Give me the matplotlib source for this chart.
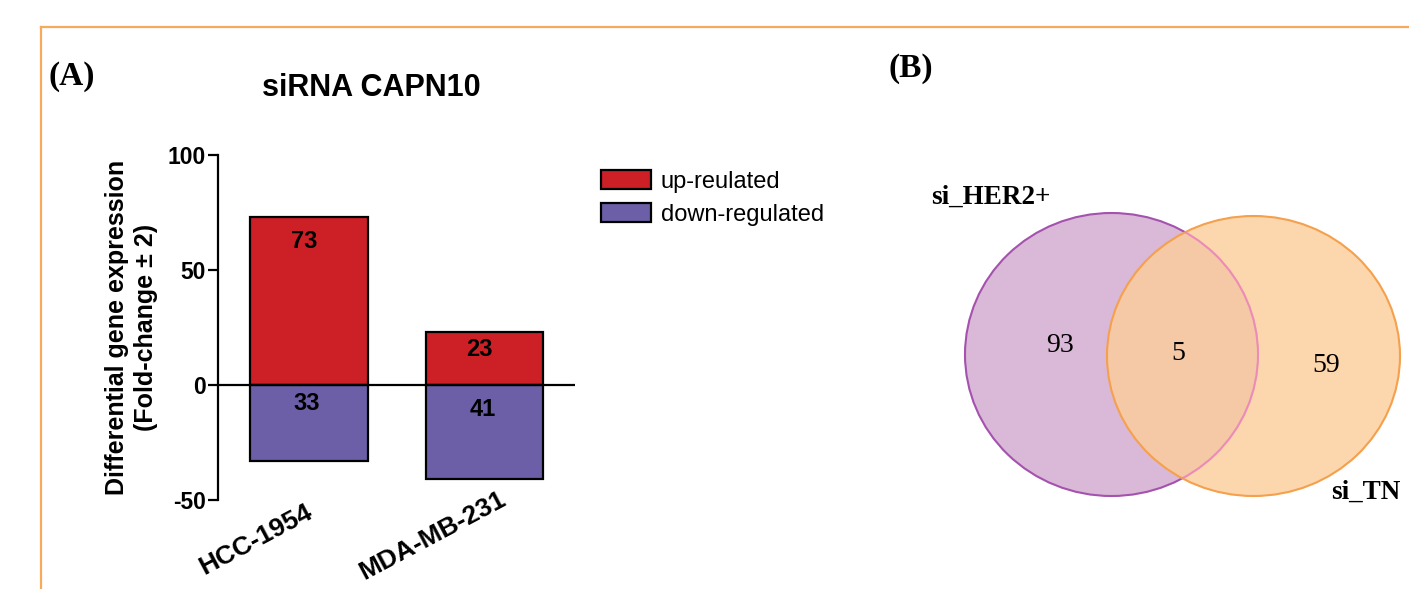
import matplotlib
matplotlib.use("Agg")
import matplotlib.pyplot as plt
import matplotlib.transforms as mtrans
from matplotlib.patches import Ellipse
from matplotlib.lines import Line2D
import numpy as np

# ---------------- data ----------------
cell_lines = ["HCC-1954", "MDA-MB-231"]
up_regulated = [73, 23]
down_regulated = [33, 41]
series_labels = ["up-reulated", "down-regulated"]
y_ticks = [-50, 0, 50, 100]
chart_title = "siRNA CAPN10"
y_label = "Differential gene expression\n(Fold-change \u00b1 2)"

venn_sets = ["si_HER2+", "si_TN"]
venn_only_a = 93
venn_both = 5
venn_only_b = 59

# ---------------- style ----------------
W, H = 1409, 589
RED = "#CD1F26"
PURPLE = "#6C5FA7"
FRAME = "#F7A95C"
SANS = "Liberation Sans"
SERIF = "Liberation Serif"

fig = plt.figure(figsize=(W / 100, H / 100), dpi=100)

def fx(px):
    return px / W

def fy(py):
    return 1 - py / H

# overlay axes in pixel coordinates (frame + venn)
ov = fig.add_axes([0, 0, 1, 1])
ov.set_xlim(0, W)
ov.set_ylim(H, 0)
ov.axis("off")
ov.patch.set_alpha(0)

# orange frame
ov.add_line(Line2D([41, W], [27, 27], color=FRAME, lw=1.6))
ov.add_line(Line2D([41, 41], [27, H], color=FRAME, lw=1.6))

# ---------------- panel A: bar chart ----------------
ax = fig.add_axes([fx(218), fy(500), fx(575) - fx(218), fy(155) - fy(500)])
x = np.arange(len(cell_lines))
bw = 0.67
b_up = ax.bar(x, up_regulated, width=bw, color=RED, edgecolor="black",
              linewidth=1.6, label=series_labels[0], zorder=2)
b_dn = ax.bar(x, [-v for v in down_regulated], width=bw, color=PURPLE,
              edgecolor="black", linewidth=1.6, label=series_labels[1], zorder=2)
ax.axhline(0, color="black", lw=1.6, zorder=3)
ax.set_xlim(-0.519, 1.516)
ax.set_ylim(-50, 100)
ax.set_yticks(y_ticks)
ax.set_yticklabels([str(t) for t in y_ticks], fontsize=16.5, fontweight="bold",
                   family=SANS)
ax.tick_params(axis="y", direction="out", length=7, width=1.6, pad=1.5)
ax.tick_params(axis="x", length=0, pad=0)
ax.set_xticks(x)
ax.set_xticklabels(cell_lines, rotation=28, ha="right", va="top",
                   rotation_mode="anchor", fontsize=19, fontweight="bold",
                   family=SANS)
# per-label layout nudges (pixels: right, up)
xlabel_nudges = [(-4, 0), (14, 13)]
for lbl, (dx, dy) in zip(ax.get_xticklabels(), xlabel_nudges):
    lbl.set_transform(lbl.get_transform() +
                      mtrans.ScaledTranslation(dx / 100, dy / 100, fig.dpi_scale_trans))
for s in ["top", "right", "bottom"]:
    ax.spines[s].set_visible(False)
ax.spines["left"].set_linewidth(1.6)
ax.patch.set_alpha(0)

ax.set_ylabel(y_label, fontsize=18, fontweight="bold", family=SANS,
              labelpad=7, linespacing=1.25)

# value labels
up_offsets = [-24, -17]
dn_offsets = [-18, -24]
for i in range(len(cell_lines)):
    ax.annotate(str(up_regulated[i]), (x[i], up_regulated[i]),
                xytext=(-5, up_offsets[i]), textcoords="offset pixels",
                ha="center", va="center", fontsize=17, fontweight="bold",
                family=SANS, zorder=4)
    ax.annotate(str(down_regulated[i]), (x[i], 0),
                xytext=(-2, dn_offsets[i]), textcoords="offset pixels",
                ha="center", va="center", fontsize=17, fontweight="bold",
                family=SANS, zorder=4)

fig.text(fx(371), fy(88), chart_title, ha="center", va="center",
         fontsize=22, fontweight="bold", family=SANS)

leg = fig.legend(handles=[b_up, b_dn], labels=series_labels,
                 loc="upper left", bbox_to_anchor=(fx(601), fy(170)),
                 frameon=False, prop={"family": SANS, "size": 17},
                 handlelength=2.1, handleheight=0.85, handletextpad=0.42,
                 labelspacing=0.45, borderpad=0, borderaxespad=0)

# panel labels
fig.text(fx(48), fy(77), "(A)", ha="left", va="center", fontsize=24,
         fontweight="bold", family=SERIF)
fig.text(fx(889), fy(69), "(B)", ha="left", va="center", fontsize=24,
         fontweight="bold", family=SERIF)

# ---------------- panel B: venn ----------------
e_a = Ellipse((1111.5, 354.5), 293, 283, facecolor="#DAB8D7",
              edgecolor="#A452AE", lw=1.5, zorder=1)
e_b = Ellipse((1253.5, 356), 293, 280, facecolor=(252 / 255, 205 / 255, 154 / 255, 0.82),
              edgecolor="#F5A04C", lw=1.5, zorder=2)
e_a2 = Ellipse((1111.5, 354.5), 293, 283, facecolor="none",
               edgecolor=(0.93, 0.50, 0.76, 0.8), lw=1.4, zorder=3)
for e in (e_a, e_b, e_a2):
    ov.add_patch(e)
e_a2.set_clip_path(e_b)

ov.text(1060, 345, str(venn_only_a), ha="center", va="center", fontsize=20,
        family=SERIF, zorder=5)
ov.text(1178, 353, str(venn_both), ha="center", va="center", fontsize=20,
        family=SERIF, zorder=5)
ov.text(1326, 365, str(venn_only_b), ha="center", va="center", fontsize=20,
        family=SERIF, zorder=5)
ov.text(931, 197, venn_sets[0], ha="left", va="center", fontsize=19.5,
        fontweight="bold", family=SERIF, zorder=5)
ov.text(1401, 492, venn_sets[1], ha="right", va="center", fontsize=19.5,
        fontweight="bold", family=SERIF, zorder=5)

fig.savefig("out.png", dpi=100)
